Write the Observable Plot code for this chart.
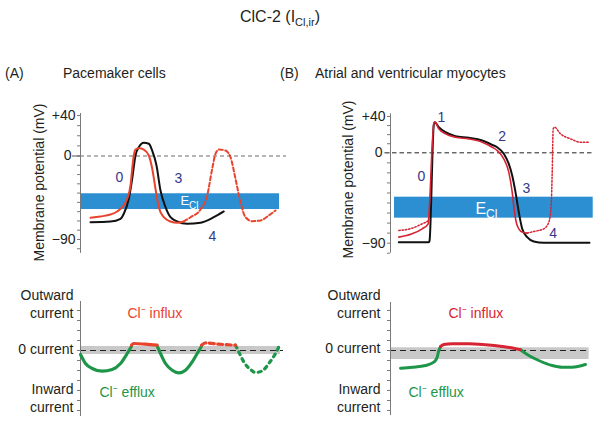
<!DOCTYPE html>
<html><head><meta charset="utf-8">
<script src="https://cdn.jsdelivr.net/npm/d3@7"></script>
<script src="https://cdn.jsdelivr.net/npm/@observablehq/plot@0.6"></script>
<style>
body{margin:0;background:#fff;}
#root{position:relative;width:600px;height:426px;overflow:hidden;font-family:"Liberation Sans",Arial,sans-serif;color:#231f20;background:#fff;}
.t{position:absolute;white-space:nowrap;font-size:14px;line-height:16px;}
</style></head><body><div id="root">
<div class="t" style="left:0;width:560px;top:7px;text-align:center;font-size:16px;line-height:20px">ClC-2 (I<span style="font-size:11px;position:relative;top:4px">Cl,ir</span>)</div>
<div class="t" style="left:5px;top:65px">(A)</div>
<div class="t" style="left:63px;top:65px">Pacemaker cells</div>
<div class="t" style="left:280px;top:65px">(B)</div>
<div class="t" style="left:315px;top:65px">Atrial and ventricular myocytes</div>
</div>
<script>
// ---------- DATA (time in arbitrary units, potential in mV, current in arbitrary units) ----------
// Panel A: pacemaker action potentials
const paceBlack = [[10,-71.4],[30,-70.6],[40,-67.7],[43.3,-62.3],[48.3,-46.1],[51.7,-24.6],[55,0.5],[58.3,8.7],[63.3,13],[68.3,12.1],[71.7,5.4],[76,-10.2],[80,-37.2],[85,-55.2],[90,-66],[96.7,-70.6],[106.7,-73.1],[120,-72],[133.3,-66],[143.3,-59.8]];
const paceRedSolid = [[10,-66.6],[20,-65.2],[30,-63.1],[36.7,-59.8],[41.7,-55.2],[46.7,-46.1],[50,-31.8],[51.7,-13.8],[53.3,0.5],[55,6.4],[58.3,7.7],[63.3,6.4],[68.3,0.5],[71.7,-13.5],[75,-35.4],[78.3,-55.2],[83.3,-66],[90,-70.6],[96.7,-72],[103.3,-70.6]];
const paceRedDashed = [[103.3,-70.6],[110,-66],[120,-57.7],[126.7,-42.6],[131.7,-13.8],[135,2.2],[138.3,6.4],[145,5.4],[150,-1.3],[155,-24.6],[160,-49.8],[165,-66],[171.7,-70.3],[180,-69.5],[188.3,-64.1],[195,-58.7]];
const eclA = [{t1:1, t2:199, lo:-57.7, hi:-40.7}];
const phaseA = [{t:39, v:-23.2, label:"0"},{t:98, v:-24.2, label:"3"},{t:132, v:-86.7, label:"4"}];

// Panel B: atrial / ventricular action potentials
const myoBlack = [[8.3,-89],[38.3,-89],[39,-88],[43.3,31],[44.3,33.7],[48.3,28.2],[55,22.7],[65,18.3],[78.3,16.5],[91.7,13.6],[101.7,8.8],[106.7,6.2],[113.3,-1],[118.3,-11],[121.7,-22.6],[125,-39.2],[128.3,-59.1],[131.7,-75.7],[136.7,-84],[143.3,-88.3],[153.3,-89.6],[199,-89.6]];
const myoRedSolid = [[8.3,-84],[21.7,-80.6],[31.7,-75.7],[37.7,-70.7],[39,-52.5],[41.7,8],[43.3,32],[44.3,34.2],[48.3,26.4],[55,20.9],[65,17.2],[78.3,15.4],[91.7,11.7],[101.7,6.2],[106.7,2.5],[113.3,-6],[118.3,-19.3],[121.7,-39.2],[124,-59.1],[126.7,-72.4],[131.7,-79],[136.7,-80]];
const myoRedDotStart = [[8.3,-77.4],[21.7,-75.1],[31.7,-70.7],[37.7,-67.4],[39,-57.4]];
const myoRedDotEnd = [[136.7,-80],[143.3,-78.4],[153.3,-75.7],[158.3,-69.1],[160.7,-52.5],[161.7,-19.3],[162.7,26.4],[164,28.2],[170,20.9],[180,15.4],[190,11.7],[198.3,11.7]];
const eclB = [{t1:4, t2:202.7, lo:-65.1, hi:-44.2}];
const phaseB = [{t:51, v:39.2, label:"1"},{t:111.6, v:18, label:"2"},{t:31, v:-23.6, label:"0"},{t:136, v:-35.9, label:"3"},{t:162.6, v:-80.7, label:"4"}];

// Potential axis ticks
const mvTicks = [40,30,20,10,0,-10,-20,-30,-40,-50,-60,-70,-80,-90,-100];
const mvLabelTicks = [40,-90];

// Chloride currents (outward positive)
const curGreenA1 = [[0,-0.4],[5,-1.3],[11.7,-1.8],[21.7,-2.07],[31.7,-1.9],[40,-1.3],[46.7,-0.3],[51,0.43]];
const curRedA1 = [[51,0.53],[53.3,0.7],[65,0.63],[76.7,0.53]];
const curGreenA2 = [[76.7,0.43],[80,-0.3],[85,-1.3],[91.7,-1.97],[98.3,-2.24],[105,-1.97],[111.7,-1.14],[116.7,-0.3],[121,0.43]];
const curRedA2 = [[121,0.53],[125,0.76],[138.3,0.63],[155,0.53]];
const curGreenA3 = [[155,0.53],[158.3,-0.14],[163.3,-1.14],[170,-1.9],[175,-2.2],[181.7,-2.04],[188.3,-1.3],[195,-0.3],[198.3,0.36]];
const curGreenB1 = [[10,-1.77],[21.7,-1.67],[35,-1.5],[43.3,-1.17],[46.7,-0.67],[48.3,0],[50,0.33]];
const curRedB = [[50,0.4],[53.3,0.6],[61.7,0.67],[78.3,0.67],[95,0.57],[111.7,0.4],[123.3,0.23],[130,0.07]];
const curGreenB2 = [[130,0.07],[138.3,-0.5],[148.3,-1],[161.7,-1.5],[171.7,-1.67],[181.7,-1.67],[191.7,-1.5],[195,-1.4]];
const bandA = [{t1:0, t2:200, lo:-0.4, hi:0.4}];
const bandB = [{t1:0, t2:198.6, lo:-0.9, hi:0.27}];
const curTicks = [4,3,2,1,0,-1,-2,-3,-4,-5,-6];

// ---------- STYLE ----------
const FONT = "'Liberation Sans', Arial, sans-serif";
const BLUE = "#2b8fd2", GRAY = "#c8c8c8", GREEN = "#1e9649", REDA = "#e8432d", REDB = "#d62434",
      BLACK = "#111111", NAVY = "#35388a", TXT = "#231f20", AXIS = "#7a7a7a";
const fmtMV = d => d > 0 ? "+" + d : d < 0 ? "\u2212" + Math.abs(d) : "0";
const blank = () => "";
const style = {background:"transparent", fontFamily: FONT, fontSize:"14px", color: TXT, overflow:"visible"};
const root = document.getElementById("root");
function place(svg, left, top){ svg.style.position="absolute"; svg.style.left=left+"px"; svg.style.top=top+"px"; root.appendChild(svg); }

// The schematic potential axes are drawn with a different mV spacing above 0 than below it:
// a warp (stretch of the positive part) feeds a linear Plot y scale.
const warper = k => v => (v > 0 ? v * k : v);
const unwarper = k => w => (w > 0 ? w / k : w);

function potentialPanel(cfg) {
  const w = warper(cfg.k), uw = unwarper(cfg.k);
  const fmt = d => fmtMV(Math.round(uw(d)));
  const Y = d => w(d[1]);
  return Plot.plot({
    width: 300, height: 160, marginLeft: cfg.x0, marginRight: 300 - cfg.x0 - 210, marginTop: 13, marginBottom: 7,
    style,
    x: {domain:[0,210], range:[cfg.x0, cfg.x0 + 210], axis:null},
    y: {domain:[cfg.yMin, w(cfg.yMax)], range:[cfg.r0, cfg.r1]},
    marks: [
      Plot.rect(cfg.ecl, {x1:"t1", x2:"t2", y1: d => w(d.lo), y2: d => w(d.hi), fill: BLUE}),
      Plot.ruleY([0], {x1: cfg.zx1, x2: cfg.zx2, stroke: cfg.zeroColor, strokeDasharray: cfg.zeroDash}),
      Plot.ruleX([0], {y1: cfg.yMin, y2: w(cfg.yMax), stroke: AXIS}),
      Plot.axisY({ticks: mvTicks.map(w), tickSize:3, tickFormat: blank, stroke: AXIS, label:null}),
      Plot.axisY({ticks: [0], tickSize: cfg.zeroTick, tickPadding: cfg.zeroPad, tickFormat: fmt, stroke:"#555", fontSize:14, fill:TXT, label:null}),
      Plot.axisY({ticks: mvLabelTicks.map(w), tickSize:0, tickPadding:5, tickFormat: fmt, fontSize:14, fill:TXT, label:null}),
      ...cfg.lines.map(([data, o]) => Plot.line(data, {x: d => d[0], y: Y, curve:"monotone-x", ...o})),
      Plot.text(["E"], {x: cfg.eX, y: w(cfg.eY), fill:"white", fontSize: cfg.eSize, textAnchor:"start"}),
      Plot.text(["Cl"], {x: cfg.clX, y: w(cfg.clY), fill:"white", fontSize: cfg.clSize, textAnchor:"start"}),
      Plot.text(cfg.phases, {x:"t", y: d => w(d.v), text:"label", fill: NAVY, fontSize:14}),
      Plot.text(["Membrane potential (mV)"], {x: cfg.labX, y: w(cfg.labY), rotate:-90, fontSize:14, fill: TXT})
    ]
  });
}

// ---------- Panel A top ----------
place(potentialPanel({
  x0: 80, k: 1.091, yMin: -105, yMax: 42, r0: 152.9, r1: 13,
  ecl: eclA, zx1: 0, zx2: 206, zeroColor: "#6a6a6a", zeroDash: "4,3", zeroTick: 8, zeroPad: 1,
  lines: [
    [paceBlack, {stroke: BLACK, strokeWidth: 2}],
    [paceRedSolid, {stroke: REDA, strokeWidth: 2}],
    [paceRedDashed, {stroke: REDA, strokeWidth: 2, strokeDasharray: "4,2.5"}]
  ],
  eX: 100, eY: -48, eSize: 13, clX: 108.5, clY: -53.5, clSize: 10,
  phases: phaseA, labX: -41, labY: -28.6
}), 0, 100);

// ---------- Panel B top ----------
place(potentialPanel({
  x0: 90, k: 0.904, yMin: -100, yMax: 43, r0: 152.7, r1: 13.3,
  ecl: eclB, zx1: -5.5, zx2: 201.5, zeroColor: "#222", zeroDash: "4.5,3", zeroTick: 0, zeroPad: 8,
  lines: [
    [myoRedDotStart, {stroke: REDB, strokeWidth: 1.5, strokeDasharray: "1.5,1.8"}],
    [myoRedDotEnd, {stroke: REDB, strokeWidth: 1.5, strokeDasharray: "1.5,1.8"}],
    [myoBlack, {stroke: BLACK, strokeWidth: 2}],
    [myoRedSolid, {stroke: REDB, strokeWidth: 1.6}]
  ],
  eX: 85, eY: -55.8, eSize: 16, clX: 95.5, clY: -61, clSize: 12,
  phases: phaseB, labX: -41.5, labY: -26.6
}), 300, 100);

// ---------- Current panels ----------
function currentPanel(cfg) {
  return Plot.plot({
    width: 300, height: 136, marginLeft: cfg.x0, marginRight: 300 - cfg.x0 - 210, marginTop: cfg.r1, marginBottom: 136 - cfg.r0,
    style,
    x: {domain:[0,210], range:[cfg.x0, cfg.x0 + 210], axis:null},
    y: {domain:[cfg.yMin, cfg.yMax], range:[cfg.r0, cfg.r1]},
    marks: [
      Plot.rect(cfg.band, {x1:"t1", x2:"t2", y1:"lo", y2:"hi", fill: GRAY}),
      Plot.ruleY([0], {x1:0, x2: cfg.zx2, stroke:"#222", strokeWidth:1.2, strokeDasharray:"6,4"}),
      Plot.ruleX([0], {y1: cfg.yMin, y2: cfg.yMax, stroke: AXIS}),
      Plot.axisY({ticks: curTicks, tickSize:3, tickFormat: blank, stroke: AXIS, label:null}),
      ...cfg.lines.map(([data, o]) => Plot.line(data, {curve:"monotone-x", ...o})),
      Plot.text(["Outward\ncurrent"], {x: cfg.labX, y:4.7, textAnchor:"end", lineHeight:1.25, fontSize:14, fill:TXT}),
      Plot.text(["0 current"], {x: cfg.labX, y: cfg.zeroLabY, textAnchor:"end", fontSize:14, fill:TXT}),
      Plot.text(["Inward\ncurrent"], {x: cfg.labX, y:-4.67, textAnchor:"end", lineHeight:1.25, fontSize:14, fill:TXT}),
      Plot.text(["Cl\u207B influx"], {x: cfg.inX, y:3.73, textAnchor:"start", fontSize:14, fill: cfg.red}),
      Plot.text(["Cl\u207B efflux"], {x: cfg.efX, y:-4.17, textAnchor:"start", fontSize:14, fill: GREEN})
    ]
  });
}

place(currentPanel({
  x0: 80, yMin: -6.6, yMax: 4.9, r0: 126, r1: 11, band: bandA, zx2: 203, red: REDA,
  lines: [
    [curGreenA1, {stroke: GREEN, strokeWidth: 3.2}],
    [curGreenA2, {stroke: GREEN, strokeWidth: 3.2}],
    [curGreenA3, {stroke: GREEN, strokeWidth: 3.2, strokeDasharray: "3,4.5"}],
    [curRedA1, {stroke: REDA, strokeWidth: 3.2}],
    [curRedA2, {stroke: REDA, strokeWidth: 3.2, strokeDasharray: "5,3.5"}]
  ],
  labX: -7, zeroLabY: 0.07, inX: 47, efX: 19
}), 0, 290);

place(currentPanel({
  x0: 90, yMin: -6.5, yMax: 4.8, r0: 125, r1: 12, band: bandB, zx2: 199, red: REDB,
  lines: [
    [curGreenB1, {stroke: GREEN, strokeWidth: 3}],
    [curGreenB2, {stroke: GREEN, strokeWidth: 3}],
    [curRedB, {stroke: REDB, strokeWidth: 3}]
  ],
  labX: -10, zeroLabY: 0.15, inX: 58, efX: 18
}), 300, 290);
</script>
</body></html>
